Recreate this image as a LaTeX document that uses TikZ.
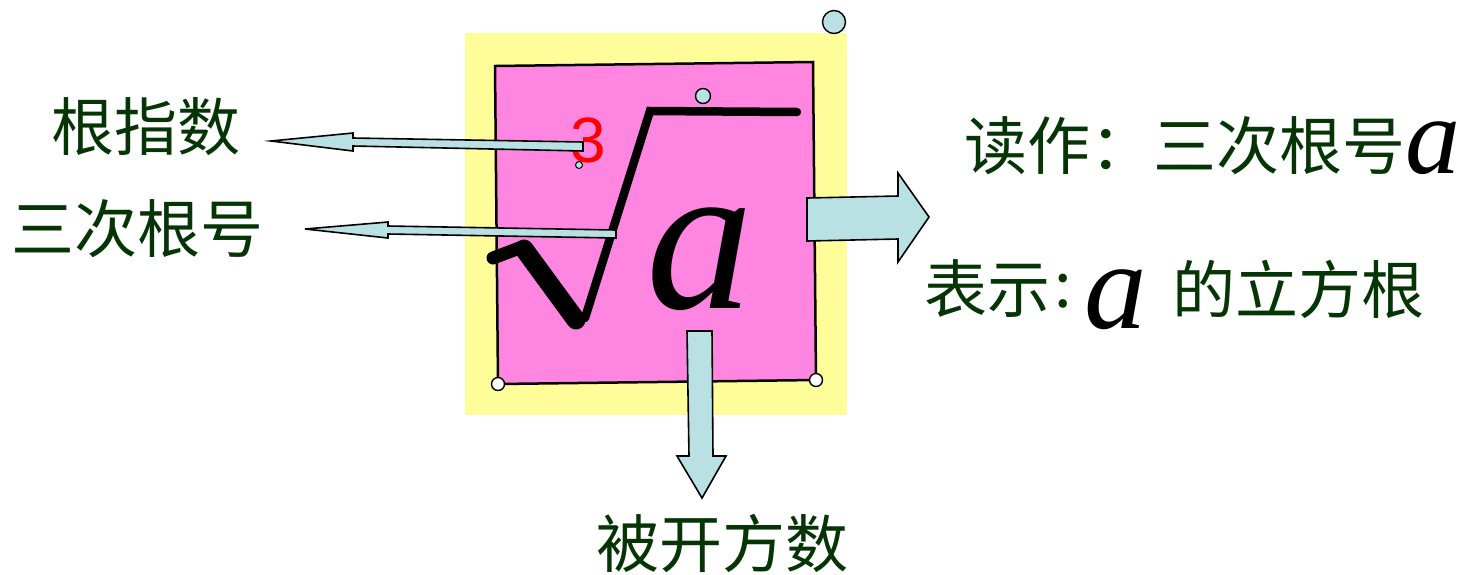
\documentclass[tikz,border=0pt]{standalone}
\usepackage{fontspec}
\newfontfamily\cjk{Noto Sans CJK SC}
\newfontfamily\tnr{Liberation Serif}
\newfontfamily\arl{Liberation Sans}
\definecolor{bgyellow}{RGB}{255,253,153}
\definecolor{boxpink}{RGB}{255,134,224}
\definecolor{lblue}{RGB}{185,224,226}
\definecolor{tgreen}{RGB}{5,52,5}
\newcommand{\bigvar}[1]{\tnr\itshape\fontsize{#1}{#1}\selectfont a}
\tikzset{
  lbl/.style={inner sep=0pt, text=tgreen, font=\cjk\fontsize{63}{63}\selectfont},
  biga/.style={inner sep=0pt, anchor=base},
  blockarrow/.style={fill=lblue, draw=black, line width=1.6pt, line join=miter},
  dot/.style={draw=black, line width=1.4pt}
}
\begin{document}
\begin{tikzpicture}[x=1pt,y=-1pt]
\useasboundingbox (0,0) rectangle (1461,574);
% backgrounds
\fill[bgyellow] (465,33) rectangle (847,415);
\draw[fill=boxpink, line width=2.5pt, line join=miter] (495,66) coordinate (p1) -- (813,62) coordinate (p2) -- (816,380) coordinate (p3) -- (498,384) coordinate (p4) -- cycle;
% radical sign
\draw[line width=13pt, line cap=round] (493,258) -- (522,247);
\draw[line width=19pt, line cap=round] (524,249) -- (576,320);
\draw[line width=8.5pt, line cap=round, line join=miter] (585,318) -- (650,111) -- (797,112);
% radicand and index
\node[biga] (rad) at (700,308) {\bigvar{214}};
\node[inner sep=0pt, text=red, font=\arl\fontsize{64}{64}\selectfont] (idx) at (588,140) {3};
% thin arrows
\coordinate (t1) at (271,141);
\coordinate (t2) at (305,229);
\draw[blockarrow] (t1) -- (353,133) -- (353,138) -- (583,142) -- (583,151) -- (353,146) -- (353,151) -- cycle;
\draw[blockarrow] (t2) -- (388,222) -- (388,226) -- (616,230) -- (616,238) -- (388,234) -- (388,238) -- cycle;
% block arrows
\draw[blockarrow] (807,198) -- (898,196) -- (898,173) -- (929,217) -- (898,262) -- (898,239) -- (807,241) -- cycle;
\draw[blockarrow] (687,331) -- (712,331) -- (713,456) -- (726,456) -- (702,498) -- (677,456) -- (689,456) -- cycle;
% little handles
\draw[dot, fill=white] (p4) circle (6.5);
\draw[dot, fill=white] (p3) circle (6.5);
\draw[dot, fill=lblue] (834,22) circle (11.5);
\draw[dot, fill=lblue] (703,96) circle (7.5);
\draw[dot, line width=1pt, fill=lblue] (579,165) circle (3.5);
% labels
\node[lbl] (gzs) at (146,127) {根指数};
\node[lbl] (scgh) at (138,229) {三次根号};
\node[lbl] (dz) at (1185,146) {读作：三次根号};
\node[biga] (a1) at (1433,173) {\bigvar{110}};
\node[lbl] (bs) at (987,289) {表示};
\node[lbl] (colon) at (1063,291) {:};
\node[biga] (a2) at (1116,328) {\bigvar{125}};
\node[lbl] (dlfg) at (1298,289) {的立方根};
\node[lbl] (bkfs) at (722,543) {被开方数};
\end{tikzpicture}
\end{document}
